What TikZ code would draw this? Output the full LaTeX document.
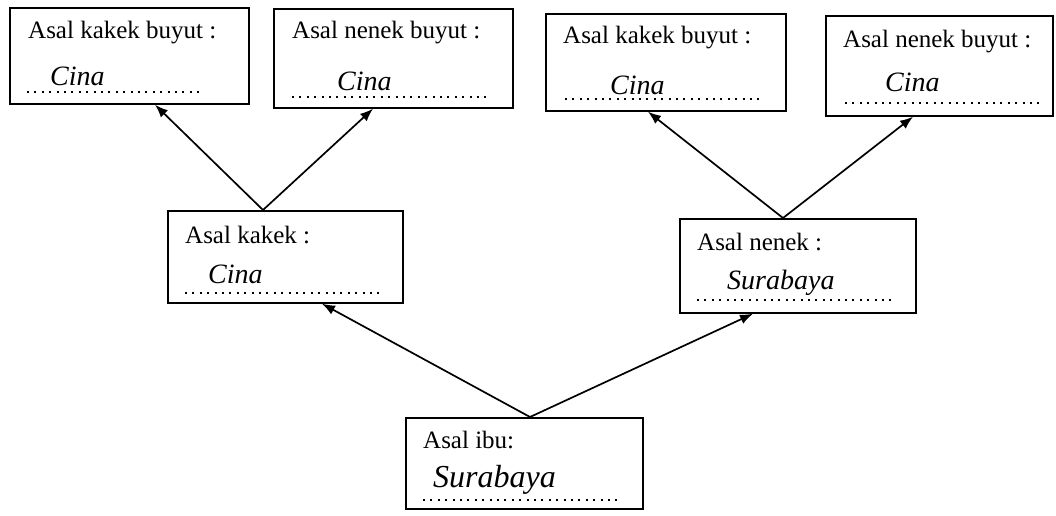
\documentclass[tikz,border=0pt]{standalone}
\usepackage{fontspec}
\setmainfont{Liberation Serif}
\usetikzlibrary{arrows.meta}
\begin{document}
\begin{tikzpicture}[x=1pt,y=-1pt,
  box/.style={draw,line width=1.7pt,inner sep=0pt,anchor=north west},
  lbl/.style={anchor=base west,inner sep=0pt,font=\fontsize{25}{30}\selectfont},
  hand/.style={anchor=base west,inner sep=0pt,font=\fontsize{28}{32}\selectfont\itshape},
  dotline/.style={line width=2.2pt,dash pattern=on 2pt off 5.4pt},
  arr/.style={line width=1.7pt,-{Latex[length=13pt,width=10pt]}}]
\useasboundingbox[fill=white] (0,0) rectangle (1056,515);

% boxes
\node[box,minimum width=239pt,minimum height=96pt] (b1) at (9,7) {};
\node[box,minimum width=239pt,minimum height=99pt] (b2) at (273,8) {};
\node[box,minimum width=240pt,minimum height=97pt] (b3) at (545,13) {};
\node[box,minimum width=227pt,minimum height=100pt] (b4) at (825,15) {};
\node[box,minimum width=235pt,minimum height=92pt] (m1) at (167,210) {};
\node[box,minimum width=236pt,minimum height=94pt] (m2) at (679,218) {};
\node[box,minimum width=237pt,minimum height=91pt] (c) at (405,417) {};

% labels
\node[lbl] (t1) at (28,38) {Asal kakek buyut :};
\node[lbl] (t2) at (292,38) {Asal nenek buyut :};
\node[lbl] (t3) at (563,43) {Asal kakek buyut :};
\node[lbl] (t4) at (843,47) {Asal nenek buyut :};
\node[lbl] (t5) at (185,243) {Asal kakek :};
\node[lbl] (t6) at (697,250) {Asal nenek :};
\node[lbl] (t7) at (423,448) {Asal ibu:};

% handwritten answers
\node[hand] (h1) at (50,85) {Cina};
\node[hand] (h2) at (337,90) {Cina};
\node[hand] (h3) at (610,94) {Cina};
\node[hand] (h4) at (885,91) {Cina};
\node[hand] (h5) at (208,283) {Cina};
\node[hand] (h6) at (727,289) {Surabaya};
\node[hand,font=\fontsize{32}{36}\selectfont\itshape] (h7) at (433,487) {Surabaya};

% dotted answer lines
\draw[dotline] (27,92) -- (200,92);
\draw[dotline] (292,97) -- (488,97);
\draw[dotline] (565,99) -- (762,99);
\draw[dotline] (845,103) -- (1040,103);
\draw[dotline] (185,293) -- (383,293);
\draw[dotline] (697,300) -- (893,300);
\draw[dotline] (423,500) -- (620,500);

% connection points
\coordinate (m1t) at ([xshift=96pt]m1.north west);
\coordinate (m2t) at ([xshift=104pt]m2.north west);
\coordinate (ct) at ([xshift=125pt]c.north west);

% arrows
\draw[arr] (m1t) -- ([xshift=146pt]b1.south west);
\draw[arr] (m1t) -- ([xshift=100pt]b2.south west);
\draw[arr] (m2t) -- ([xshift=103pt]b3.south west);
\draw[arr] (m2t) -- ([xshift=88pt]b4.south west);
\draw[arr] (ct) -- ([xshift=155pt]m1.south west);
\draw[arr] (ct) -- ([xshift=74pt]m2.south west);
\end{tikzpicture}
\end{document}
